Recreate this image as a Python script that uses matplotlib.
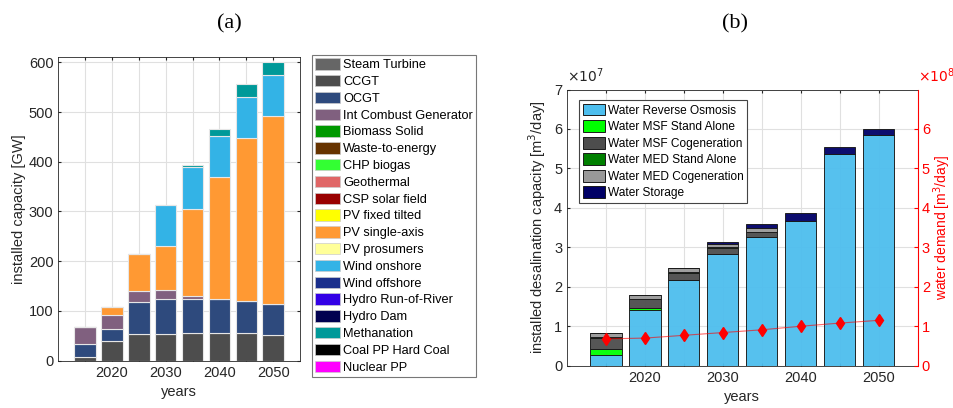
import numpy as np
import matplotlib
matplotlib.use("Agg")
import matplotlib.pyplot as plt
from matplotlib.patches import Patch

plt.rcParams['font.family'] = ['Liberation Sans', 'DejaVu Sans']

years = [2015, 2020, 2025, 2030, 2035, 2040, 2045, 2050]

# (a) installed power capacity per technology [GW]
techs = ['Steam Turbine', 'CCGT', 'OCGT', 'Int Combust Generator', 'Biomass Solid',
         'Waste-to-energy', 'CHP biogas', 'Geothermal', 'CSP solar field',
         'PV fixed tilted', 'PV single-axis', 'PV prosumers', 'Wind onshore',
         'Wind offshore', 'Hydro Run-of-River', 'Hydro Dam', 'Methanation',
         'Coal PP Hard Coal', 'Nuclear PP']
tech_colors = ['#666666', '#4d4d4d', '#2e4a7d', '#80607f', '#009900',
               '#663300', '#33ff33', '#e06666', '#990000',
               '#ffff00', '#ff9933', '#ffff99', '#33b3e6',
               '#1a2f8c', '#3300e6', '#000050', '#009999',
               '#000000', '#ff00ff']
ccgt = [8, 40, 54, 54, 56, 56, 56, 51]
ocgt = [25.5, 23, 65, 70, 68, 68, 64, 62]
int_combust = [33.5, 28, 22, 19, 7, 1, 0, 0]
pv_single_axis = [0, 16, 73, 87, 175, 244, 327, 379]
wind_onshore = [0, 0, 0, 83, 83, 83, 83, 83]
methanation = [0, 0, 0, 0, 5, 13, 26, 26]
capacity = {'CCGT': ccgt, 'OCGT': ocgt, 'Int Combust Generator': int_combust,
            'PV single-axis': pv_single_axis, 'Wind onshore': wind_onshore,
            'Methanation': methanation}

# (b) desalination capacity [x1e7 m3/day] and water demand [x1e8 m3/day]
desal_names = ['Water Reverse Osmosis', 'Water MSF Stand Alone', 'Water MSF Cogeneration',
               'Water MED Stand Alone', 'Water MED Cogeneration', 'Water Storage']
desal_colors = ['#4dbeee', '#00ff00', '#4d4d4d', '#008000', '#999999', '#000066']
reverse_osmosis = [0.27, 1.41, 2.17, 2.83, 3.25, 3.67, 5.37, 5.84]
msf_stand_alone = [0.15, 0.06, 0.01, 0.01, 0.01, 0, 0, 0]
msf_cogen = [0.29, 0.215, 0.18, 0.15, 0.12, 0, 0, 0]
med_stand_alone = [0.01, 0.01, 0.02, 0.01, 0.01, 0, 0, 0]
med_cogen = [0.10, 0.09, 0.10, 0.08, 0.10, 0, 0, 0]
water_storage = [0, 0, 0, 0.06, 0.11, 0.19, 0.17, 0.17]
water_demand = [0.68, 0.70, 0.77, 0.84, 0.91, 1.00, 1.08, 1.15]

fig = plt.figure(figsize=(9.54, 4.08), dpi=100)
W, H = 954, 408

# ---------- (a) ----------
ax1 = fig.add_axes([58.3 / W, (H - 360.7) / H, (300 - 58.3) / W, (360.7 - 57.3) / H])
bottom = np.zeros(len(years))
for name, col in zip(techs, tech_colors):
    if name not in capacity:
        continue
    vals = np.array(capacity[name], dtype=float)
    ax1.bar(years, vals, width=4, bottom=bottom, color=col, edgecolor='#e6e6e6',
            linewidth=0.8, zorder=3)
    bottom += vals

ax1.set_xlim(2010, 2055)
ax1.set_ylim(0, 610)
ax1.set_xticks(years)
ax1.set_xticklabels([str(y) if y % 10 == 0 else '' for y in years])
ax1.set_yticks(range(0, 601, 100))
ax1.grid(True, color='#e0e0e0', linewidth=0.8, zorder=0)
ax1.tick_params(labelsize=10.5, colors='#262626', length=2, direction='in',
                top=True, right=True)
for s in ax1.spines.values():
    s.set_color('#262626')
    s.set_linewidth(0.6)
ax1.set_xlabel('years', fontsize=10.5, color='#262626')
ax1.set_ylabel('installed capacity [GW]', fontsize=10.5, color='#262626', labelpad=2)

handles1 = [Patch(facecolor=c, edgecolor='#cccccc', linewidth=0.5) for c in tech_colors]
leg1 = ax1.legend(handles1, techs, loc='upper left', bbox_to_anchor=(311.7 / W, 1 - 55 / H),
                  bbox_transform=fig.transFigure, borderaxespad=0, fontsize=9.2,
                  fancybox=False, edgecolor='#777777', framealpha=1,
                  handlelength=2.0, handleheight=1.0, handletextpad=0.2,
                  labelspacing=0.29, borderpad=0.25)
leg1.get_frame().set_linewidth(0.8)

# ---------- (b) ----------
ax2 = fig.add_axes([567 / W, (H - 365.7) / H, (917.7 - 567) / W, (365.7 - 89.5) / H])
desal = [reverse_osmosis, msf_stand_alone, msf_cogen, med_stand_alone, med_cogen, water_storage]
bottom = np.zeros(len(years))
for vals, col in zip(desal, desal_colors):
    vals = np.array(vals, dtype=float)
    ax2.bar(years, vals, width=4, bottom=bottom, color=col, edgecolor='#1a1a1a',
            linewidth=0.7, alpha=0.95, zorder=3)
    bottom += vals

ax2.set_xlim(2010, 2055)
ax2.set_ylim(0, 7)
ax2.set_xticks(years)
ax2.set_xticklabels([str(y) if y % 10 == 0 else '' for y in years])
ax2.set_yticks(range(0, 8))
ax2.grid(True, color='#e0e0e0', linewidth=0.8, zorder=0)
ax2.tick_params(labelsize=10.5, colors='#262626', length=2, direction='in', top=True)
for s in ax2.spines.values():
    s.set_color('#262626')
    s.set_linewidth(0.6)
ax2.set_xlabel('years', fontsize=10.5, color='#262626')
ax2.set_ylabel('installed desalination capacity [m$^3$/day]', fontsize=10.5,
               color='#262626', labelpad=4)
ax2.text(0, 1.015, r'$\times10^{7}$', transform=ax2.transAxes, fontsize=10,
         color='#262626', ha='left', va='bottom')

ax3 = ax2.twinx()
ax3.plot(years, water_demand, color='red', linewidth=0.8, alpha=0.6, zorder=4)
ax3.plot(years, water_demand, linestyle='none', marker='d', color='red',
         markersize=6, zorder=5)
ax3.set_ylim(0, 7)
ax3.set_yticks(range(0, 7))
ax3.tick_params(labelsize=10.5, colors='red', length=3, direction='in', pad=3)
ax3.spines['right'].set_color('red')
ax3.spines['right'].set_linewidth(0.8)
for k in ['left', 'top', 'bottom']:
    ax3.spines[k].set_visible(False)
ax3.set_ylabel('water demand [m$^3$/day]', fontsize=10, color='red', labelpad=1)
ax3.text(1, 1.015, r'$\times10^{8}$', transform=ax3.transAxes, fontsize=10,
         color='red', ha='left', va='bottom')

handles2 = [Patch(facecolor=c, edgecolor='#1a1a1a', linewidth=0.7) for c in desal_colors]
leg2 = ax3.legend(handles2, desal_names, loc='upper left', bbox_to_anchor=(579 / W, 1 - 100 / H),
                  bbox_transform=fig.transFigure, borderaxespad=0, fontsize=8.6,
                  fancybox=False, edgecolor='#444444', framealpha=1,
                  handlelength=1.9, handleheight=1.15, handletextpad=0.2,
                  labelspacing=0.3, borderpad=0.3)
leg2.get_frame().set_linewidth(0.8)

fig.text(229 / W, 1 - 24 / H, '(a)', fontsize=16, family='Liberation Serif',
         ha='center', va='center')
fig.text(735 / W, 1 - 24 / H, '(b)', fontsize=16, family='Liberation Serif',
         ha='center', va='center')

fig.savefig('out.png', dpi=100)
